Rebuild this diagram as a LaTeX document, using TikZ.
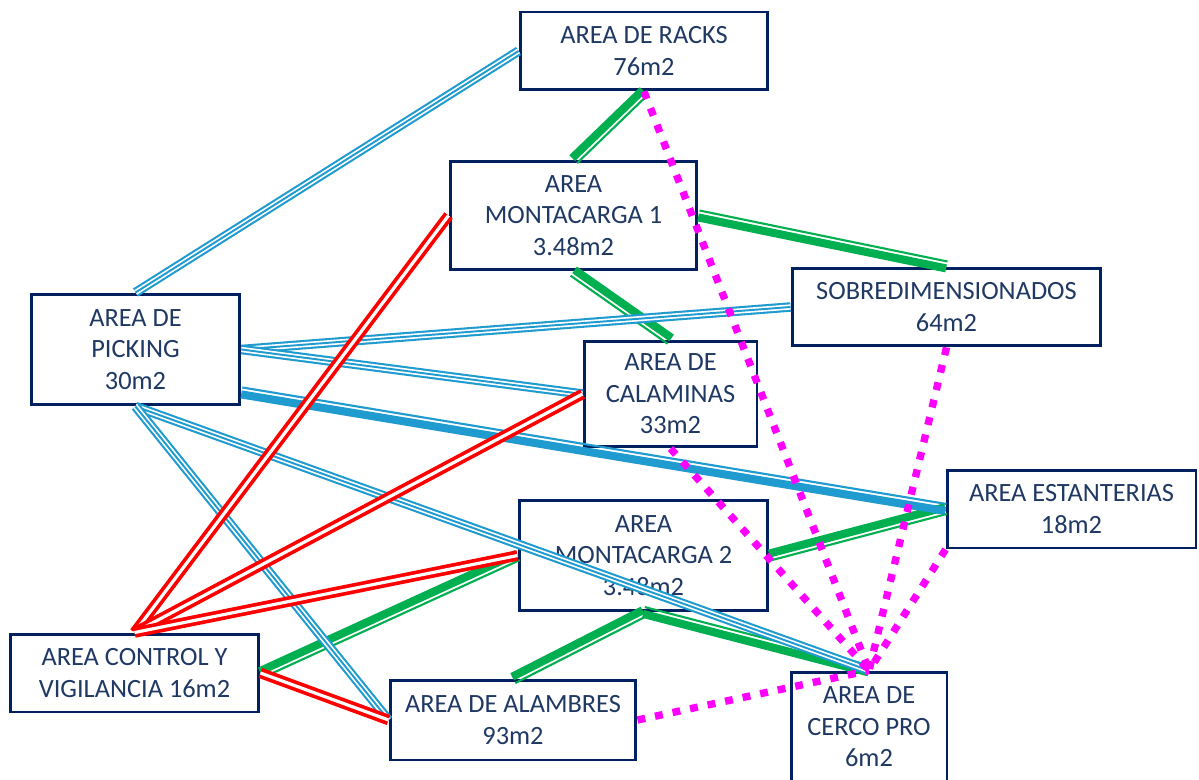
\documentclass[tikz,border=0pt]{standalone}
\usepackage{fontspec}
\setmainfont{Carlito}
\usetikzlibrary{positioning,calc}
\definecolor{boxnavy}{HTML}{002060}
\definecolor{textnavy}{HTML}{1F3864}
\definecolor{linkblue}{HTML}{1F9BCF}
\definecolor{linkgreen}{HTML}{00B050}
\definecolor{linkred}{HTML}{FF0000}
\definecolor{linkmagenta}{HTML}{FF00FF}

\tikzset{
    area/.style={draw=boxnavy, line width=1.7pt, fill=white, text=textnavy,
        align=center, inner sep=0pt, font=\fontsize{15}{18}\selectfont},
    greenlink/.style={draw=linkgreen},
    bluelink/.style={draw=linkblue, line width=1.1pt,
        preaction={draw=linkblue, line width=5.4pt},
        preaction={draw=white, line width=3.0pt}},
    redlink/.style={draw=linkred, double=white, line width=2.1pt, double distance=1.8pt},
    dotlink/.style={draw=linkmagenta, line width=4.2pt, dash pattern=on 4.5pt off 5.7pt}
}

% thick + thin pair, thick line on the left of #1 -> #2
\newcommand{\thickthin}[3]{%
    \draw[#3, line width=4.6pt] ($(#1)!1.1pt!90:(#2)$) -- ($(#2)!1.1pt!-90:(#1)$);
    \draw[#3, line width=1.2pt] ($(#1)!2.9pt!-90:(#2)$) -- ($(#2)!2.9pt!90:(#1)$);
}

\begin{document}
\begin{tikzpicture}[x=0.02cm, y=-0.02cm]
        \clip (0,0) rectangle (1199,780);
        \fill[white] (0,0) rectangle (1199,780);

        % Areas
        \node[area, minimum width=4.96cm, minimum height=1.56cm] (racks) at (644,51) {AREA DE RACKS\\76m2};
        \node[area, minimum width=4.94cm, minimum height=2.18cm] (mont1) at (573.5,215.5) {AREA\\MONTACARGA 1\\3.48m2};
        \node[area, minimum width=4.18cm, minimum height=2.22cm] (picking) at (135.5,349.5) {AREA DE\\PICKING\\30m2};
        \node[area, minimum width=6.18cm, minimum height=1.56cm] (sobre) at (946.5,307) {SOBREDIMENSIONADOS\\64m2};
        \node[area, minimum width=3.46cm, minimum height=2.12cm] (calam) at (670.5,394) {AREA DE\\CALAMINAS\\33m2};
        \node[area, minimum width=4.98cm, minimum height=1.56cm] (estan) at (1071.5,509) {AREA ESTANTERIAS\\18m2};
        \node[area, minimum width=4.98cm, minimum height=2.2cm] (mont2) at (643.5,555.5) {AREA\\MONTACARGA 2\\3.48m2};
        \node[area, minimum width=4.98cm, minimum height=1.56cm] (control) at (134.5,673) {AREA CONTROL Y\\VIGILANCIA 16m2};
        \node[area, minimum width=4.92cm, minimum height=1.6cm] (alamb) at (513,720) {AREA DE ALAMBRES\\93m2};
        \node[area, minimum width=3.12cm, minimum height=2.2cm] (cerco) at (869,727) {AREA DE\\CERCO PRO\\6m2};

        \coordinate (pickout) at ([yshift=-0.86cm]picking.east);

        % Green links
        \thickthin{mont1.north}{racks.south}{greenlink}
        \thickthin{sobre.north}{mont1.east}{greenlink}
        \thickthin{mont1.south}{calam.north}{greenlink}
        \thickthin{mont2.east}{estan.west}{greenlink}
        \thickthin{control.east}{mont2.west}{greenlink}
        \thickthin{alamb.north}{mont2.south}{greenlink}
        \thickthin{cerco.north}{mont2.south}{greenlink}

        % Blue links
        \draw[bluelink] (picking.north) -- (racks.west);
        \draw[bluelink] (picking.east) -- (sobre.west);
        \draw[bluelink] (picking.east) -- (calam.west);
        \thickthin{estan.west}{pickout}{draw=linkblue}
        \draw[bluelink] (picking.south) -- (cerco.north);
        \draw[bluelink] (picking.south) -- (alamb.west);

        % Red links
        \foreach \to in {mont1.west, calam.west, mont2.west} {
            \draw[redlink] (control.north) -- (\to);
        }
        \draw[redlink] (control.east) -- (alamb.west);

        % Dotted links into the cerco area
        \foreach \from in {racks.south, calam.south, sobre.south, estan.south west, alamb.east} {
            \draw[dotlink] (\from) -- (cerco.north);
        }
    \end{tikzpicture}
\end{document}
